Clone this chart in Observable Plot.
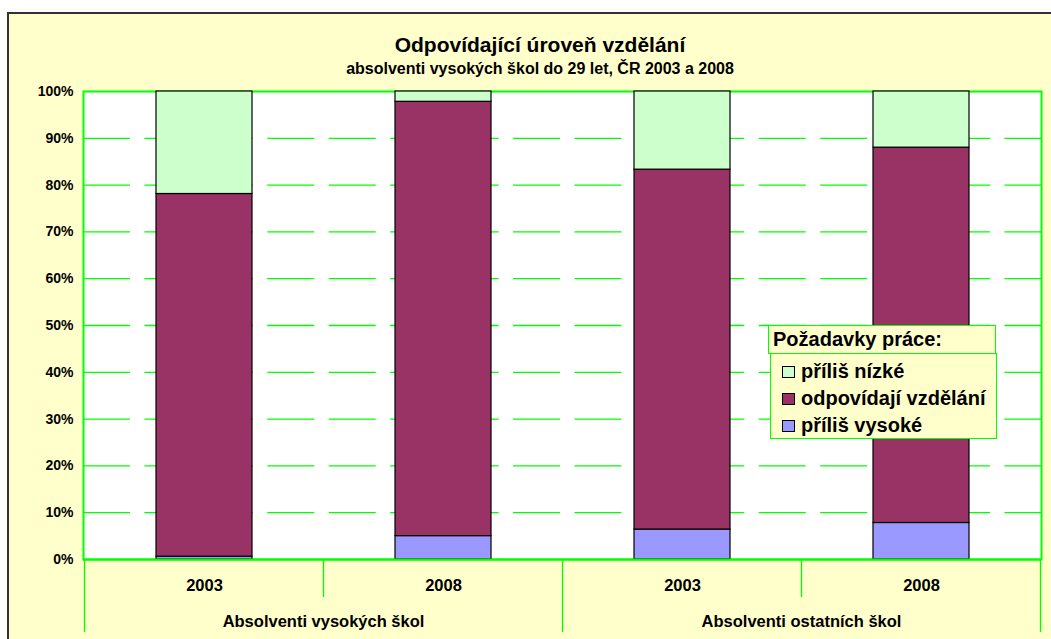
<!DOCTYPE html>
<html><head><meta charset="utf-8">
<script src="https://cdn.jsdelivr.net/npm/d3@7"></script>
<script src="https://cdn.jsdelivr.net/npm/@observablehq/plot@0.6"></script>
<style>
html,body{margin:0;padding:0;background:#fff;overflow:hidden;width:1051px;height:639px;}
body{position:relative;font-family:"Liberation Sans",Arial,sans-serif;font-weight:bold;color:#000;}
#frame{position:absolute;left:7px;top:12px;width:1100px;height:700px;border:2px solid #333;background:#FFFFCC;box-sizing:border-box;}
#chart{position:absolute;left:0;top:0;}
.ttl{position:absolute;left:0;width:1080px;text-align:center;white-space:nowrap;line-height:1;}
#title{top:34px;font-size:21px;}
#subtitle{top:61px;font-size:16px;}
#legTitle{position:absolute;left:768px;top:325px;width:228px;height:29px;box-sizing:border-box;border:1.5px solid #00FF00;background:#FFFFCC;font-size:20px;line-height:26px;padding-left:4px;white-space:nowrap;}
#legItems{position:absolute;left:770px;top:353px;width:227px;height:86px;box-sizing:border-box;border:1.5px solid #00FF00;background:#FFFFCC;padding-top:4px;}
.row{display:flex;align-items:center;height:27px;font-size:20px;white-space:nowrap;}
.sw{width:13px;height:12px;box-sizing:border-box;border:1px solid #000;margin-left:10.5px;margin-right:6.5px;}
</style>
</head><body>
<div id="frame"></div>
<div id="chart"></div>
<div id="title" class="ttl">Odpovídající úroveň vzdělání</div>
<div id="subtitle" class="ttl">absolventi vysokých škol do 29 let, ČR 2003 a 2008</div>
<div id="legTitle">Požadavky práce:</div>
<div id="legItems"></div>
<script>
const groups = ["Absolventi vysokých škol", "Absolventi ostatních škol"];
const years = ["2003", "2008"];
const categories = ["příliš vysoké", "odpovídají vzdělání", "příliš nízké"];
const legendOrder = ["příliš nízké", "odpovídají vzdělání", "příliš vysoké"];
const colors = ["#9999FF", "#993366", "#CCFFCC"];
const tooHigh = [0.6, 5.0, 6.4, 7.8];
const matching = [77.5, 92.8, 76.9, 80.2];
const tooLow = [21.9, 2.2, 16.7, 12.0];
const yTicks = [0, 10, 20, 30, 40, 50, 60, 70, 80, 90, 100];
const gridTicks = [10, 20, 30, 40, 50, 60, 70, 80, 90];

const keys = groups.flatMap(g => years.map(y => g + "|" + y));
const series = [tooHigh, matching, tooLow];
const rows = keys.flatMap((k, i) => categories.map((c, j) => ({key: k, cat: c, value: series[j][i]})));

const font = '"Liberation Sans", Arial, sans-serif';
const green = "#00FF00";

const plot = Plot.plot({
  width: 1051, height: 639,
  marginLeft: 83, marginRight: 10, marginTop: 91, marginBottom: 80,
  style: {background: "transparent", fontFamily: font, overflow: "visible"},
  x: {type: "band", domain: keys, paddingInner: 0.6, paddingOuter: 0.3},
  y: {domain: [0, 100]},
  color: {domain: categories, range: colors},
  marks: [
    Plot.frame({fill: "white", stroke: green, strokeWidth: 2}),
    Plot.ruleY(gridTicks, {stroke: green, strokeWidth: 1.3, strokeDasharray: "47,14.43"}),
    Plot.barY(rows, {x: "key", y: "value", fill: "cat", stroke: "#000", strokeWidth: 1.2}),
    Plot.ruleY([0], {stroke: green, strokeWidth: 2}),
    Plot.axisY({ticks: yTicks, tickFormat: d => d + "%", tickSize: 0, tickPadding: 10, fontSize: 14, fontWeight: "bold", label: null}),
    Plot.axisX({tickFormat: k => k.split("|")[1], tickSize: 0, tickPadding: 20, fontSize: 16.5, fontWeight: "bold", label: null})
  ]
});
document.getElementById("chart").appendChild(plot);

// separators and group labels using the plot's own scales
const xs = plot.scale("x"), ys = plot.scale("y");
const step = xs.step ?? (xs.apply(keys[1]) - xs.apply(keys[0]));
const pad = (step - xs.bandwidth) / 2;
const y0 = ys.apply(0);
const svg = d3.select(plot);
const bounds = keys.map(k => xs.apply(k) - pad);
bounds.push(xs.apply(keys[keys.length - 1]) + xs.bandwidth + pad);
const g = svg.append("g");
bounds.forEach((bx, i) => {
  const long = i % years.length === 0;
  g.append("line").attr("x1", bx).attr("x2", bx).attr("y1", y0).attr("y2", y0 + (long ? 73 : 38))
    .attr("stroke", green).attr("stroke-width", 1.3);
});
groups.forEach((grp, gi) => {
  const ks = keys.filter(k => k.startsWith(grp + "|"));
  const cx = (xs.apply(ks[0]) + xs.apply(ks[ks.length - 1]) + xs.bandwidth) / 2;
  g.append("text").attr("x", cx).attr("y", y0 + 67.7).attr("text-anchor", "middle")
    .attr("font-size", 16.5).attr("font-weight", "bold").attr("font-family", font).attr("fill", "#000")
    .text(grp);
});

// legend
const leg = document.getElementById("legItems");
legendOrder.forEach(c => {
  const row = document.createElement("div");
  row.className = "row";
  const sw = document.createElement("div");
  sw.className = "sw";
  sw.style.background = colors[categories.indexOf(c)];
  const t = document.createElement("span");
  t.textContent = c;
  row.appendChild(sw); row.appendChild(t);
  leg.appendChild(row);
});
</script>
</body></html>
